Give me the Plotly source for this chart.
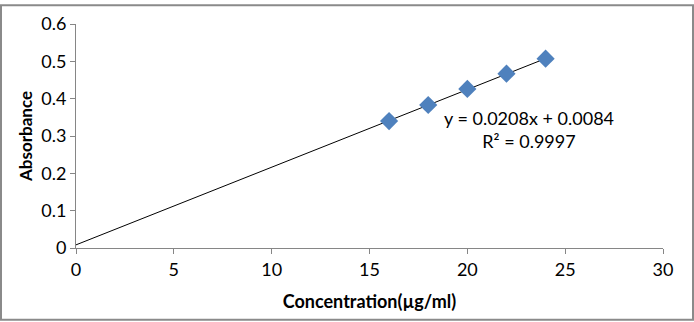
import plotly.graph_objects as go

# Standard curve data
concentration = [16, 18, 20, 22, 24]
absorbance = [0.340, 0.383, 0.426, 0.467, 0.507]

# Linear fit parameters shown on the chart
slope = 0.0208
intercept = 0.0084
r_squared = 0.9997

x_ticks = [0, 5, 10, 15, 20, 25, 30]
y_ticks = [0, 0.1, 0.2, 0.3, 0.4, 0.5, 0.6]

W, H = 694, 322
ML, MR, MT, MB = 76, 31, 20, 74

fit_x = [0, max(concentration)]
fit_y = [slope * x + intercept for x in fit_x]

fig = go.Figure()
fig.add_trace(go.Scatter(
    x=fit_x, y=fit_y, mode="lines",
    line=dict(color="black", width=1), hoverinfo="skip", showlegend=False,
))
fig.add_trace(go.Scatter(
    x=concentration, y=absorbance, mode="markers",
    marker=dict(symbol="diamond", size=14, color="#4F81BD",
                line=dict(width=0)),
    showlegend=False,
))

font = "Lato, Carlito, Calibri, sans-serif"
axis_common = dict(
    showgrid=False, zeroline=False, showline=True, linecolor="#868686",
    linewidth=1, ticks="outside", tickcolor="#868686", ticklen=5,
    tickfont=dict(family=font, size=18, color="black"),
)

fig.update_layout(
    width=W, height=H,
    margin=dict(l=ML, r=MR, t=MT, b=MB),
    paper_bgcolor="white", plot_bgcolor="white",
    xaxis=dict(range=[0, 30], tickvals=x_ticks, **axis_common,
               title=dict(text="<b>Concentration(µg/ml)</b>",
                          font=dict(family=font, size=18, color="black"),
                          standoff=16)),
    yaxis=dict(range=[0, 0.6], tickvals=y_ticks, **axis_common,
               title=dict(text="<b>Absorbance</b>",
                          font=dict(family=font, size=17, color="black"),
                          standoff=4)),
    annotations=[dict(
        x=23.15, y=0.318, xref="x", yref="y", showarrow=False,
        text=f"y = {slope}x + {intercept}<br>R² = {r_squared}",
        align="center", font=dict(family=font, size=18, color="black"),
    )],
)

# Chart frame around the full figure
pw = W - ML - MR
ph = H - MT - MB
fig.add_shape(
    type="rect", xref="paper", yref="paper",
    x0=-(ML - 1) / pw, x1=1 + (MR - 1) / pw,
    y0=-(MB - 1) / ph, y1=1 + (MT - 1) / ph,
    line=dict(color="#8a8a8a", width=2), layer="below",
)

fig.write_html("out.html")
